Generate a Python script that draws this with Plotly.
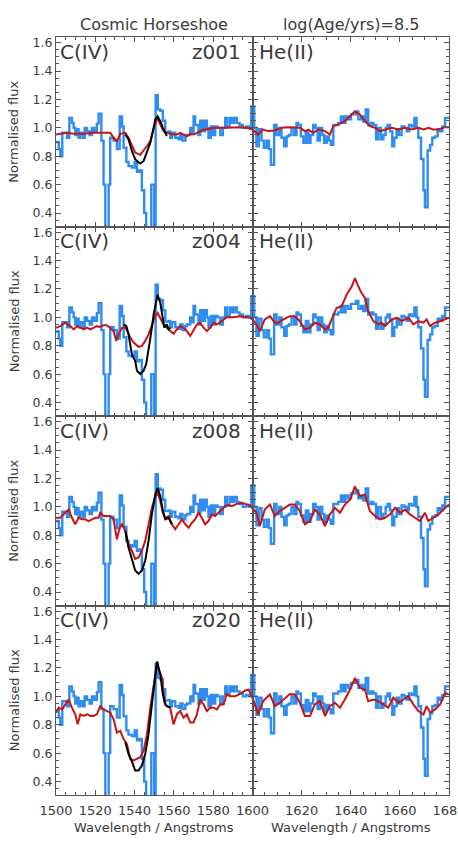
import plotly.graph_objects as go
from plotly.subplots import make_subplots

# ---------------- data ----------------
rows_metal = ["z001", "z004", "z008", "z020"]
col_titles = ["Cosmic Horseshoe", "log(Age/yrs)=8.5"]
line_labels = ["C(IV)", "He(II)"]

# observed spectrum (step, bin start wavelengths)
obs_wave = [1500.0, 1501.4, 1502.2, 1503.2, 1505.6, 1506.8, 1508.1, 1509.0, 1509.8, 1510.7,
            1511.5, 1512.4, 1513.7, 1514.6, 1515.8, 1517.1, 1518.3, 1519.5, 1520.8, 1521.7,
            1523.1, 1524.2, 1525.1, 1526.8, 1527.6, 1529.3, 1531.0, 1532.4, 1533.6, 1534.4,
            1535.8, 1536.9, 1538.6, 1540.0, 1541.2, 1542.4, 1543.7, 1544.9, 1545.9, 1548.5,
            1550.0, 1550.7, 1551.8, 1553.1, 1554.4, 1555.6, 1557.3, 1558.1, 1559.0, 1560.7,
            1562.4, 1563.2, 1564.4, 1565.8, 1566.6, 1568.3, 1569.2, 1570.0, 1570.8, 1572.5,
            1573.4, 1574.6, 1575.8, 1576.8, 1577.6, 1578.8, 1579.8, 1581.0, 1582.2, 1583.6,
            1584.9, 1586.1, 1586.9, 1588.3, 1589.5, 1590.7, 1592.0, 1593.4, 1595.1, 1596.8,
            1598.5, 1599.4, 1600.7, 1601.6, 1602.6, 1603.7, 1604.6, 1605.7, 1606.7, 1607.5,
            1608.8, 1609.8, 1610.9, 1611.8, 1612.9, 1613.9, 1614.8, 1615.9, 1617.0, 1617.9,
            1618.6, 1619.7, 1620.7, 1621.7, 1622.7, 1623.6, 1624.7, 1625.7, 1626.5, 1627.4,
            1628.4, 1629.2, 1630.2, 1631.1, 1631.9, 1632.9, 1634.9, 1636.0, 1637.0, 1637.9,
            1639.0, 1640.1, 1642.1, 1643.1, 1644.2, 1645.1, 1646.1, 1647.1, 1648.2, 1649.2,
            1650.3, 1651.2, 1652.3, 1653.3, 1654.2, 1655.0, 1656.0, 1656.9, 1657.7, 1658.7,
            1659.6, 1660.7, 1661.8, 1662.8, 1663.7, 1664.8, 1665.9, 1666.8, 1667.5, 1668.6,
            1669.6, 1670.2, 1671.3, 1672.3, 1673.2, 1674.3, 1675.4, 1676.4, 1677.3, 1678.4,
            1680.0]
obs_flux = [0.90, 0.85, 0.80, 0.965, 0.93, 1.07, 1.035, 1.0, 0.95, 0.99,
            0.93, 0.965, 0.93, 1.0, 0.975, 0.95, 1.0, 0.975, 1.03, 1.10,
            0.91, 0.60, 0.20, 0.60, 0.93, 0.91, 0.85, 1.08, 1.01, 0.86,
            0.76, 0.73, 0.72, 0.76, 0.69, 0.70, 0.56, 0.40, 0.20, 0.60,
            0.20, 1.23, 1.13, 1.12, 1.05, 0.97, 0.975, 0.93, 0.965, 0.93,
            0.92, 0.95, 0.91, 0.94, 0.95, 1.0, 0.965, 1.08, 1.02, 0.95,
            1.05, 0.975, 1.05, 1.0, 0.93, 1.01, 0.95, 1.01, 1.0, 0.95,
            1.0, 1.07, 1.01, 1.07, 1.035, 1.07, 1.035, 1.02, 1.0, 1.01,
            1.0, 1.15, 1.0, 0.87, 0.99, 0.91, 0.86, 0.91, 0.85, 0.74,
            1.02, 0.95, 1.0, 0.93, 0.87, 0.94, 0.95, 1.0, 0.95, 1.035,
            1.02, 0.94, 0.895, 0.975, 0.895, 0.95, 1.02, 1.0, 0.91, 1.0,
            0.95, 0.895, 0.94, 0.91, 0.88, 1.02, 1.035, 1.08, 1.035, 1.08,
            1.06, 1.095, 1.115, 1.06, 1.08, 1.045, 1.13, 1.02, 1.035, 1.02,
            0.92, 1.0, 0.92, 0.95, 1.0, 1.02, 0.975, 0.87, 0.93, 0.99,
            0.95, 1.01, 1.0, 0.975, 1.02, 1.01, 1.07, 1.0, 0.93, 0.78,
            0.56, 0.44, 0.84, 0.88, 0.93, 0.94, 0.99, 0.975, 1.01, 1.07,
            1.07]

# red model, one per metallicity row
red1_wave = [1500.0, 1502.2, 1505.6, 1509.0, 1514.1, 1519.2, 1524.2, 1527.6, 1529.3, 1531.0,
             1532.7, 1535.3, 1536.9, 1538.6, 1540.3, 1542.9, 1544.6, 1546.3, 1548.0, 1549.7,
             1551.4, 1553.1, 1554.7, 1556.4, 1558.1, 1559.8, 1561.5, 1563.2, 1564.9, 1566.6,
             1568.3, 1570.0, 1571.7, 1573.4, 1575.1, 1576.8, 1580.2, 1586.9, 1593.7, 1597.1,
             1600.0, 1602.3, 1604.3, 1606.4, 1609.1, 1611.8, 1614.5, 1617.3, 1619.3, 1621.3,
             1622.7, 1624.7, 1626.8, 1629.5, 1631.5, 1632.9, 1634.9, 1637.6, 1639.7, 1641.7,
             1643.8, 1645.8, 1647.8, 1649.9, 1651.9, 1653.9, 1656.7, 1659.4, 1662.1, 1664.8,
             1667.5, 1669.6, 1671.6, 1673.6, 1675.7, 1678.4, 1680.0]
red1_flux = [0.953, 0.958, 0.965, 0.958, 0.958, 0.965, 0.965, 0.965, 0.93, 0.907,
             0.958, 0.965, 0.93, 0.872, 0.826, 0.81, 0.837, 0.872, 0.907, 1.0,
             1.07, 1.023, 0.977, 0.965, 0.958, 0.953, 0.953, 0.965, 0.953, 0.942,
             0.958, 0.953, 0.965, 0.977, 0.988, 0.988, 1.0, 1.0, 1.005, 1.0,
             0.988, 0.953, 0.988, 0.977, 0.981, 1.0, 1.005, 1.005, 1.0, 0.977,
             0.988, 0.965, 0.988, 0.977, 0.953, 1.012, 1.023, 1.047, 1.081, 1.116,
             1.093, 1.047, 1.012, 1.0, 0.977, 0.988, 1.0, 0.988, 1.0, 0.988,
             1.0, 0.988, 1.0, 0.988, 0.988, 1.005, 1.005]

red2_wave = [1500.0, 1502.2, 1504.7, 1507.3, 1509.0, 1510.7, 1512.4, 1514.1, 1515.8, 1517.5,
             1519.2, 1520.8, 1522.5, 1524.2, 1525.9, 1527.6, 1529.3, 1530.7, 1531.9, 1533.6,
             1535.3, 1536.4, 1537.8, 1539.5, 1542.0, 1543.7, 1545.4, 1547.1, 1548.8, 1550.5,
             1551.7, 1553.1, 1554.7, 1556.4, 1558.1, 1559.8, 1561.5, 1563.2, 1564.9, 1566.6,
             1568.3, 1570.0, 1571.7, 1573.4, 1575.1, 1576.8, 1578.5, 1580.2, 1581.9, 1583.6,
             1585.3, 1586.9, 1590.3, 1593.7, 1597.1, 1598.8, 1600.0, 1601.6, 1603.0, 1605.0,
             1607.1, 1609.1, 1610.5, 1612.5, 1615.2, 1617.3, 1619.3, 1621.3, 1623.4, 1625.4,
             1627.4, 1629.5, 1630.8, 1632.5, 1634.2, 1636.3, 1638.3, 1640.4, 1641.7, 1643.1,
             1644.4, 1645.8, 1647.1, 1649.2, 1651.2, 1652.6, 1653.9, 1656.7, 1658.7, 1660.7,
             1663.5, 1665.5, 1667.5, 1669.6, 1670.9, 1672.3, 1674.3, 1676.4, 1678.4, 1680.0]
red2_flux = [0.927, 0.938, 0.962, 0.938, 0.915, 0.938, 0.927, 0.915, 0.927, 0.915,
             0.927, 0.938, 0.933, 0.945, 0.945, 0.927, 0.903, 0.834, 0.880, 0.927,
             0.927, 0.903, 0.857, 0.822, 0.792, 0.799, 0.834, 0.880, 0.950, 1.008,
             1.031, 0.997, 0.950, 0.927, 0.903, 0.885, 0.915, 0.938, 0.927, 0.903,
             0.869, 0.915, 0.950, 0.962, 0.927, 0.903, 0.927, 0.962, 0.950, 0.966,
             0.985, 1.001, 1.001, 1.008, 1.001, 0.997, 0.985, 0.950, 0.903, 0.985,
             1.008, 0.962, 0.962, 0.985, 1.008, 1.008, 0.973, 0.915, 0.927, 0.962,
             0.950, 0.915, 0.927, 0.997, 1.066, 1.078, 1.159, 1.217, 1.276, 1.217,
             1.171, 1.136, 1.043, 0.973, 0.950, 0.962, 0.938, 0.985, 0.997, 0.973,
             0.997, 0.950, 0.973, 0.962, 0.985, 0.938, 0.962, 0.973, 0.985, 0.997]

red3_wave = [1500.0, 1502.2, 1504.7, 1506.4, 1508.1, 1509.8, 1511.5, 1513.2, 1514.9, 1516.6,
             1518.3, 1520.0, 1521.7, 1522.5, 1524.2, 1525.9, 1527.6, 1529.3, 1531.0, 1532.4,
             1533.6, 1535.3, 1536.9, 1538.6, 1540.3, 1542.0, 1543.7, 1545.4, 1547.1, 1548.8,
             1550.5, 1551.7, 1553.1, 1554.4, 1555.6, 1557.3, 1559.0, 1560.7, 1562.4, 1564.1,
             1565.8, 1567.5, 1569.2, 1570.8, 1572.5, 1574.2, 1575.9, 1577.6, 1579.3, 1581.0,
             1582.7, 1584.4, 1586.1, 1587.8, 1589.5, 1592.0, 1594.6, 1596.3, 1598.0, 1600.0,
             1601.6, 1603.0, 1605.0, 1607.1, 1609.1, 1611.1, 1613.2, 1615.2, 1617.3, 1619.3,
             1621.3, 1623.4, 1625.4, 1627.4, 1629.5, 1631.5, 1633.6, 1635.6, 1637.6, 1639.7,
             1641.7, 1643.8, 1645.8, 1647.8, 1649.9, 1651.9, 1653.9, 1656.0, 1658.0, 1660.1,
             1662.1, 1664.1, 1666.2, 1668.2, 1670.2, 1671.6, 1673.6, 1675.7, 1677.7, 1680.0]
red3_flux = [0.923, 0.923, 0.958, 0.981, 0.923, 0.877, 0.923, 0.912, 0.912, 0.900,
             0.912, 0.923, 0.923, 0.958, 0.935, 0.935, 0.935, 0.912, 0.772, 0.853,
             0.877, 0.830, 0.737, 0.691, 0.633, 0.644, 0.691, 0.760, 0.877, 0.993,
             1.074, 1.098, 1.040, 0.958, 0.923, 0.935, 0.877, 0.842, 0.877, 0.912,
             0.877, 0.853, 0.888, 0.912, 0.958, 0.923, 0.877, 0.900, 0.947, 0.935,
             0.958, 0.981, 1.005, 1.012, 1.005, 1.021, 1.028, 1.021, 1.016, 0.990,
             0.958, 0.865, 0.981, 1.016, 0.935, 0.970, 0.993, 1.016, 1.016, 0.970,
             0.877, 0.900, 0.981, 0.947, 0.865, 0.947, 0.993, 0.958, 1.016, 1.051,
             1.144, 1.074, 1.086, 0.970, 0.935, 0.912, 0.923, 0.947, 0.993, 0.958,
             0.981, 0.947, 0.923, 0.900, 0.958, 0.900, 0.923, 0.947, 0.981, 1.016]

red4_wave = [1500.0, 1501.4, 1503.1, 1504.7, 1506.4, 1508.1, 1509.8, 1511.0, 1512.4, 1514.1,
             1515.8, 1517.5, 1519.2, 1520.8, 1522.5, 1524.2, 1525.9, 1527.6, 1529.3, 1531.0,
             1532.7, 1534.4, 1536.1, 1537.8, 1539.5, 1541.2, 1542.9, 1544.6, 1546.3, 1548.0,
             1549.7, 1551.4, 1552.7, 1553.9, 1555.1, 1556.4, 1558.1, 1559.8, 1561.5, 1563.2,
             1564.9, 1566.6, 1568.3, 1570.0, 1571.7, 1573.4, 1575.1, 1576.8, 1578.5, 1580.2,
             1581.9, 1583.6, 1585.3, 1586.9, 1588.6, 1591.2, 1593.7, 1596.3, 1598.0, 1600.0,
             1602.3, 1604.3, 1607.1, 1609.1, 1611.1, 1613.2, 1615.2, 1617.3, 1619.3, 1621.3,
             1623.4, 1625.4, 1627.4, 1629.5, 1631.5, 1633.6, 1635.6, 1637.6, 1639.7, 1641.7,
             1643.8, 1645.8, 1647.1, 1649.2, 1651.2, 1653.3, 1655.3, 1657.3, 1659.4, 1661.4,
             1663.5, 1665.5, 1667.5, 1669.6, 1670.9, 1672.3, 1674.3, 1676.4, 1678.4, 1680.0]
red4_flux = [0.885, 0.920, 0.908, 0.943, 0.978, 0.920, 0.873, 0.803, 0.873, 0.862,
             0.873, 0.862, 0.862, 0.873, 0.931, 0.908, 0.897, 0.885, 0.838, 0.745,
             0.757, 0.699, 0.664, 0.559, 0.548, 0.559, 0.571, 0.617, 0.734, 0.920,
             1.083, 1.234, 1.176, 1.129, 0.966, 0.931, 0.920, 0.803, 0.873, 0.897,
             0.850, 0.873, 0.815, 0.815, 0.873, 0.978, 0.943, 0.897, 0.920, 0.920,
             0.908, 0.943, 0.943, 1.017, 1.001, 1.001, 1.017, 1.041, 1.048, 0.990,
             0.873, 0.966, 1.013, 0.931, 0.955, 0.990, 1.017, 1.013, 0.955, 0.862,
             0.862, 0.943, 0.966, 0.862, 0.931, 0.955, 0.920, 0.978, 1.048, 1.129,
             1.059, 1.048, 0.966, 0.978, 0.966, 0.943, 0.920, 0.990, 0.955, 0.978,
             1.001, 0.943, 0.897, 0.873, 0.931, 0.885, 0.908, 0.943, 1.024, 1.013]

# black model (C IV region only)
blk1_wave = [1535.3, 1536.9, 1538.6, 1540.3, 1542.0, 1542.9, 1544.6, 1546.3, 1548.0, 1549.7,
             1550.5, 1551.7, 1553.1, 1554.4, 1555.6, 1556.4]
blk1_flux = [0.953, 0.919, 0.837, 0.779, 0.756, 0.749, 0.767, 0.837, 0.895, 1.0,
             1.058, 1.081, 1.047, 1.0, 0.965, 0.942]
blk2_wave = [1534.4, 1535.8, 1536.9, 1537.8, 1538.6, 1540.3, 1541.2, 1542.9, 1544.6, 1545.9,
             1547.1, 1548.3, 1549.7, 1550.8, 1551.7, 1553.1, 1554.2, 1555.1, 1556.4, 1557.3,
             1558.1]
blk2_flux = [0.950, 0.938, 0.880, 0.787, 0.741, 0.694, 0.624, 0.601, 0.624, 0.671,
             0.764, 0.880, 1.020, 1.113, 1.159, 1.101, 0.985, 0.927, 0.950, 0.915,
             0.927]
blk3_wave = [1535.3, 1536.9, 1538.6, 1540.3, 1542.0, 1543.7, 1545.4, 1547.1, 1548.8, 1550.5,
             1551.7, 1553.1, 1554.4, 1555.6, 1557.3, 1559.0]
blk3_flux = [0.830, 0.714, 0.633, 0.551, 0.528, 0.551, 0.621, 0.760, 0.947, 1.086,
             1.133, 1.074, 0.970, 0.912, 0.923, 0.877]
blk4_wave = [1535.3, 1536.9, 1538.6, 1540.3, 1542.0, 1543.7, 1545.4, 1547.1, 1548.8, 1550.5,
             1551.4, 1553.1, 1554.4, 1555.6, 1556.4, 1558.1]
blk4_flux = [0.676, 0.594, 0.543, 0.478, 0.478, 0.513, 0.594, 0.734, 0.943, 1.152,
             1.245, 1.152, 1.013, 0.943, 0.931, 0.920]

x_ranges = [[1500, 1600], [1600, 1680]]
x_tickvals = [[1500, 1520, 1540, 1560, 1580, 1600], [1620, 1640, 1660, 1680]]
y_range = [0.305, 1.64]
y_tickvals = [0.4, 0.6, 0.8, 1.0, 1.2, 1.4, 1.6]

red_models = [(red1_wave, red1_flux), (red2_wave, red2_flux),
              (red3_wave, red3_flux), (red4_wave, red4_flux)]
blk_models = [(blk1_wave, blk1_flux), (blk2_wave, blk2_flux),
              (blk3_wave, blk3_flux), (blk4_wave, blk4_flux)]

assert len(obs_wave) == len(obs_flux), (len(obs_wave), len(obs_flux))
for w, f in red_models + blk_models:
    assert len(w) == len(f), (len(w), len(f))

# ---------------- figure ----------------
W, H = 458, 859
ML, MR, MT, MB = 56, 9, 37, 64
FONT = "DejaVu Sans"
TXT = "#3a3a3a"
AX = "#555555"
BLUE = "#2f8cf0"
RED = "#c81414"

fig = make_subplots(rows=4, cols=2, horizontal_spacing=0, vertical_spacing=0)

for r in range(4):
    for c in range(2):
        fig.add_trace(go.Scatter(x=obs_wave, y=obs_flux, mode="lines",
                                 line=dict(color=BLUE, width=2.4, shape="hv"),
                                 showlegend=False, hoverinfo="skip"),
                      row=r + 1, col=c + 1)
        rw, rf = red_models[r]
        fig.add_trace(go.Scatter(x=rw, y=rf, mode="lines",
                                 line=dict(color=RED, width=2),
                                 showlegend=False, hoverinfo="skip"),
                      row=r + 1, col=c + 1)
        if c == 0:
            bw, bf = blk_models[r]
            fig.add_trace(go.Scatter(x=bw, y=bf, mode="lines",
                                     line=dict(color="black", width=2),
                                     showlegend=False, hoverinfo="skip"),
                          row=r + 1, col=c + 1)

        fig.update_xaxes(range=x_ranges[c], tickvals=x_tickvals[c],
                         showticklabels=(r == 3), automargin=False,
                         ticklabeloverflow="allow", ticklabelstandoff=3,
                         ticks="inside", ticklen=5, tickwidth=1, tickcolor=AX,
                         minor=dict(dtick=5, ticks="inside", ticklen=3, tickcolor=AX, tickwidth=1),
                         showline=True, linecolor=AX, linewidth=1, mirror="allticks",
                         showgrid=False, zeroline=False,
                         tickfont=dict(family=FONT, size=13, color=TXT),
                         row=r + 1, col=c + 1)
        fig.update_yaxes(range=y_range, tickvals=y_tickvals, ticktext=["%.1f" % v for v in y_tickvals],
                         showticklabels=(c == 0), automargin=False,
                         ticks="inside", ticklen=5, tickwidth=1, tickcolor=AX,
                         minor=dict(tickvals=[0.35 + 0.05 * k for k in range(26)], ticks="inside",
                                    ticklen=3, tickcolor=AX, tickwidth=1),
                         showline=True, linecolor=AX, linewidth=1, mirror="allticks",
                         showgrid=False, zeroline=False,
                         tickfont=dict(family=FONT, size=12.5, color=TXT),
                         row=r + 1, col=c + 1)

pw = W - ML - MR
ph = H - MT - MB
annotations = []
for c, t in enumerate(col_titles):
    annotations.append(dict(text=t, xref="paper", yref="paper",
                            x=0.25 + 0.5 * c, y=1 + (MT - 24) / ph,
                            xanchor="center", yanchor="middle", showarrow=False,
                            font=dict(family=FONT, size=16, color=TXT)))
    annotations.append(dict(text="Wavelength / Angstroms", xref="paper", yref="paper",
                            x=0.25 + 0.5 * c, y=-(828 - (H - MB)) / ph,
                            xanchor="center", yanchor="middle", showarrow=False,
                            font=dict(family=FONT, size=13, color=TXT)))

for r in range(4):
    n = 2 * r
    xa_l = "x" if n == 0 else "x%d" % (n + 1)
    ya_l = "y" if n == 0 else "y%d" % (n + 1)
    xa_r = "x%d" % (n + 2)
    ya_r = "y%d" % (n + 2)
    annotations.append(dict(text=line_labels[0], xref=xa_l + " domain", yref=ya_l + " domain",
                            x=0.012, y=0.921, xanchor="left", yanchor="middle", showarrow=False,
                            font=dict(family=FONT, size=20, color=TXT)))
    annotations.append(dict(text=rows_metal[r], xref=xa_l + " domain", yref=ya_l + " domain",
                            x=0.95, y=0.921, xanchor="right", yanchor="middle", showarrow=False,
                            font=dict(family=FONT, size=20, color=TXT)))
    annotations.append(dict(text=line_labels[1], xref=xa_r + " domain", yref=ya_r + " domain",
                            x=0.024, y=0.921, xanchor="left", yanchor="middle", showarrow=False,
                            font=dict(family=FONT, size=20, color=TXT)))
    annotations.append(dict(text="Normalised flux", xref="paper", yref=ya_l + " domain",
                            x=-(ML - 14) / pw, y=0.5, xanchor="center", yanchor="middle",
                            textangle=-90, showarrow=False,
                            font=dict(family=FONT, size=13, color=TXT)))

fig.update_layout(width=W, height=H, autosize=False,
                  margin=dict(l=ML, r=MR, t=MT, b=MB),
                  plot_bgcolor="white", paper_bgcolor="white",
                  annotations=annotations, showlegend=False)

fig.write_html("out.html", config={"displayModeBar": False},
               post_script="document.body.style.margin='0';document.body.style.overflow='hidden';")
